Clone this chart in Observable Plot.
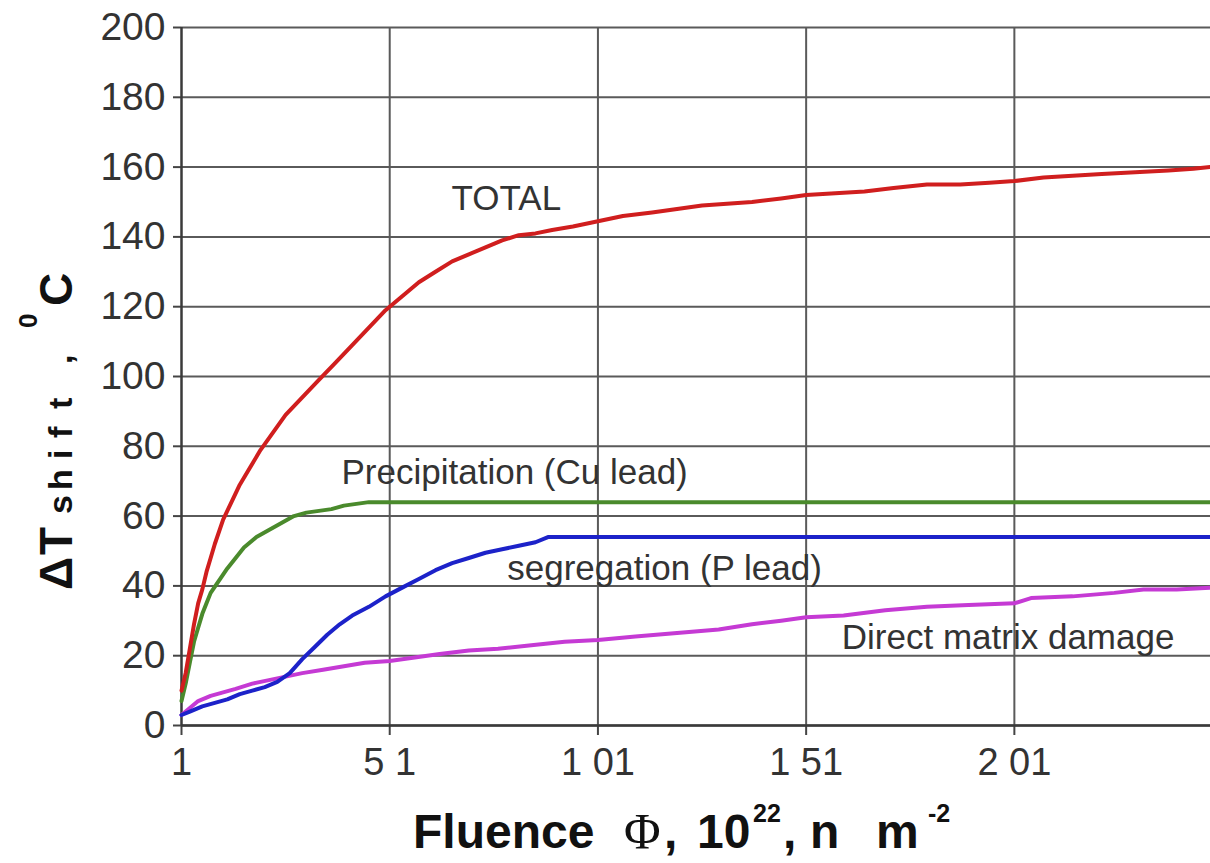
<!DOCTYPE html>
<html>
<head>
<meta charset="utf-8">
<script src="https://cdn.jsdelivr.net/npm/d3@7"></script>
<script src="https://cdn.jsdelivr.net/npm/@observablehq/plot@0.6"></script>
<style>
  html, body { margin: 0; padding: 0; background: white; }
  #chart svg { display: block; }
</style>
</head>
<body>
<div id="chart"></div>
<script>
// ---- tick values and labels ----
const xTicks = [1, 51, 101, 151, 201];
const xTickLabels = ["1", "5 1", "1 01", "1 51", "2 01"];
const yTicks = [0, 20, 40, 60, 80, 100, 120, 140, 160, 180, 200];

// ---- series: TOTAL ----
const totalX = [1, 2, 3, 4, 5, 6, 7, 8, 9, 11, 13, 15, 17, 20, 23, 26, 30, 34, 38, 42, 46, 50, 54, 58, 62, 66, 70, 74, 78, 82, 86, 90, 95, 101, 107, 114, 120, 126, 132, 138, 145, 151, 158, 165, 172, 180, 188, 195, 201, 208, 215, 222, 230, 238, 244, 248];
const totalY = [10, 15, 22, 29, 35, 39, 44, 48, 52, 59, 64, 69, 73, 79, 84, 89, 94, 99, 104, 109, 114, 119, 123, 127, 130, 133, 135, 137, 139, 140.5, 141, 142, 143, 144.5, 146, 147, 148, 149, 149.5, 150, 151, 152, 152.5, 153, 154, 155, 155, 155.5, 156, 157, 157.5, 158, 158.5, 159, 159.5, 160];

// ---- series: Precipitation (Cu lead) ----
const precipX = [1, 2, 3, 4, 5, 6, 7, 8, 10, 12, 14, 16, 19, 22, 25, 28, 31, 34, 37, 40, 43, 46, 50, 100, 150, 200, 248];
const precipY = [7, 12, 18, 24, 28, 32, 35, 38, 41.5, 45, 48, 51, 54, 56, 58, 60, 61, 61.5, 62, 63, 63.5, 64, 64, 64, 64, 64, 64];

// ---- series: segregation (P lead) ----
const segX = [1, 3, 6, 9, 12, 15, 18, 21, 24, 27, 30, 33, 36, 39, 42, 46, 50, 54, 58, 62, 66, 70, 74, 78, 82, 86, 89, 95, 150, 200, 248];
const segY = [3, 4, 5.5, 6.5, 7.5, 9, 10, 11, 12.5, 15, 19, 22.5, 26, 29, 31.5, 34, 37, 39.5, 42, 44.5, 46.5, 48, 49.5, 50.5, 51.5, 52.5, 54, 54, 54, 54, 54];

// ---- series: Direct matrix damage ----
const dmdX = [1, 3, 5, 8, 11, 14, 18, 22, 26, 30, 35, 40, 45, 51, 57, 63, 70, 77, 85, 93, 101, 110, 120, 130, 138, 145, 151, 160, 170, 180, 190, 201, 205, 215, 225, 232, 240, 248];
const dmdY = [3, 5, 7, 8.5, 9.5, 10.5, 12, 13, 14, 15, 16, 17, 18, 18.5, 19.5, 20.5, 21.5, 22, 23, 24, 24.5, 25.5, 26.5, 27.5, 29, 30, 31, 31.5, 33, 34, 34.5, 35, 36.5, 37, 38, 39, 39, 39.5];

const seriesNames = ["Direct matrix damage", "segregation (P lead)", "Precipitation (Cu lead)", "TOTAL"];
const seriesColors = ["#c53ad4", "#1c22c9", "#4a8a2c", "#d01e1e"];

// ---- in-chart labels ----
const labelText = ["TOTAL", "Precipitation (Cu lead)", "segregation (P lead)", "Direct matrix damage"];
const labelX = [79, 81, 117, 199.5];
const labelY = [151, 72.5, 45, 25];

// ---- build table ----
const rows = [];
function addSeries(name, xs, ys) {
  xs.forEach((x, i) => rows.push({series: name, x, y: ys[i]}));
}
addSeries("Direct matrix damage", dmdX, dmdY);
addSeries("segregation (P lead)", segX, segY);
addSeries("Precipitation (Cu lead)", precipX, precipY);
addSeries("TOTAL", totalX, totalY);

const labels = labelText.map((t, i) => ({text: t, x: labelX[i], y: labelY[i]}));

const chart = Plot.plot({
  width: 1210,
  height: 863,
  marginLeft: 181,
  marginRight: 0,
  marginTop: 27,
  marginBottom: 138,
  x: {domain: [1, 248.1]},
  y: {domain: [0, 200]},
  color: {domain: seriesNames, range: seriesColors},
  style: {
    fontFamily: "'Liberation Sans', Arial, sans-serif",
    fontSize: "37px",
    color: "#333",
    background: "white",
    overflow: "visible"
  },
  marks: [
    Plot.gridY(yTicks, {stroke: "#5a5a5a", strokeOpacity: 1, strokeWidth: 2}),
    Plot.gridX(xTicks.slice(1), {stroke: "#5a5a5a", strokeOpacity: 1, strokeWidth: 2}),
    Plot.axisY({ticks: yTicks, tickSize: 8, tickPadding: 8, label: null, stroke: "#444", strokeWidth: 2, fill: "#333", fontSize: 39}),
    Plot.axisX({ticks: xTicks, tickFormat: (d, i) => xTickLabels[i], tickSize: 10, tickPadding: 13, label: null, stroke: "#444", strokeWidth: 2, fill: "#333", fontSize: 38}),
    Plot.ruleX([xTicks[0]], {stroke: "#3a3a3a", strokeWidth: 2.5}),
    Plot.ruleY([yTicks[0]], {stroke: "#3a3a3a", strokeWidth: 2.5}),
    Plot.text(labels, {x: "x", y: "y", text: "text", fontSize: 35, fill: "#333", textAnchor: "middle"}),
    Plot.line(rows, {x: "x", y: "y", z: "series", stroke: "series", strokeWidth: 4, curve: "linear"})
  ]
});

document.getElementById("chart").appendChild(chart);

// ---- axis titles with super/subscript formatting ----
const svg = d3.select(chart);
const FONT = "'Liberation Sans', Arial, sans-serif";

// X title
const xt = svg.append("text")
  .attr("text-anchor", "start")
  .attr("font-family", FONT)
  .attr("font-weight", "bold")
  .attr("font-size", 48)
  .attr("fill", "#111");
xt.append("tspan").attr("x", 413).attr("y", 848).text("Fluence");
xt.append("tspan").attr("x", 624).attr("y", 848)
  .attr("font-family", "'Liberation Serif', 'Times New Roman', serif")
  .attr("font-weight", "normal").attr("font-size", 50).text("Φ");
xt.append("tspan").attr("x", 664).attr("y", 848).text(",");
xt.append("tspan").attr("x", 697).attr("y", 848).text("10");
xt.append("tspan").attr("x", 753).attr("y", 822).attr("font-size", 25).text("22");
xt.append("tspan").attr("x", 783).attr("y", 848).text(",");
xt.append("tspan").attr("x", 810).attr("y", 848).text("n");
xt.append("tspan").attr("x", 876).attr("y", 848).text("m");
xt.append("tspan").attr("x", 928).attr("y", 822).attr("font-size", 25).text("-2");

// Y title (rotated)
const yt = svg.append("text")
  .attr("text-anchor", "start")
  .attr("transform", "translate(72,590) rotate(-90)")
  .attr("font-family", FONT)
  .attr("font-weight", "bold")
  .attr("fill", "#111");
const yParts = [
  {t: "Δ", x: 0, y: 0, s: 46},
  {t: "T", x: 35, y: 0, s: 46},
  {t: "s", x: 76, y: 0, s: 34},
  {t: "h", x: 100, y: 0, s: 34},
  {t: "i", x: 131, y: 0, s: 34},
  {t: "f", x: 152, y: 0, s: 34},
  {t: "t", x: 181, y: 0, s: 34},
  {t: ",", x: 226, y: 0, s: 34},
  {t: "0", x: 262, y: -35, s: 26},
  {t: "C", x: 284, y: 0, s: 46}
];
yParts.forEach(p => {
  yt.append("tspan").attr("x", p.x).attr("y", p.y).attr("font-size", p.s).text(p.t);
});
</script>
</body>
</html>
